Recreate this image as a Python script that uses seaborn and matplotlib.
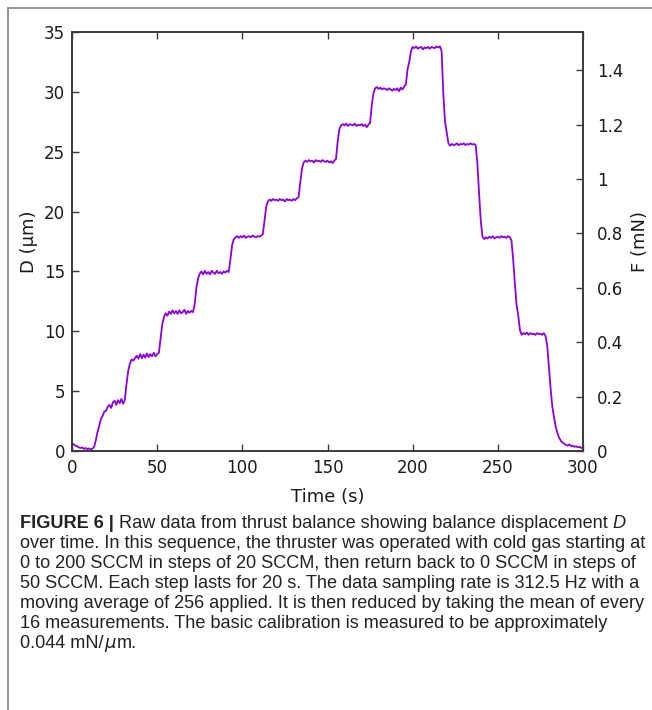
import numpy as np
import pandas as pd
import matplotlib
matplotlib.use("Agg")
import matplotlib.pyplot as plt
import seaborn as sns
from matplotlib.lines import Line2D

# ---------------- data ----------------
time_s = list(range(0, 301))
D_um = [
    0.65, 0.55, 0.45, 0.40, 0.30, 0.25, 0.30, 0.18, 0.25, 0.15,
    0.22, 0.12, 0.20, 0.35, 0.90, 1.60, 2.10, 2.70, 2.95, 3.30,
    3.35, 3.70, 3.85, 3.60, 4.05, 4.20, 3.85, 4.25, 4.00, 4.35,
    3.95, 4.25, 5.60, 6.70, 7.30, 7.65, 7.55, 7.75, 7.95, 7.70,
    8.10, 7.75, 8.05, 7.80, 8.15, 7.85, 8.10, 7.90, 8.20, 7.90,
    8.10, 8.20, 9.40, 10.60, 11.20, 11.50, 11.30, 11.65, 11.45, 11.75,
    11.50, 11.70, 11.45, 11.75, 11.50, 11.60, 11.80, 11.45, 11.70, 11.55,
    11.70, 11.60, 12.20, 13.60, 14.40, 14.80, 15.00, 14.75, 15.05, 14.80,
    14.95, 14.75, 15.05, 14.90, 14.80, 15.05, 14.85, 14.95, 14.80, 15.00,
    14.90, 15.05, 14.95, 16.00, 17.20, 17.70, 17.85, 17.95, 17.80, 17.95,
    17.85, 18.00, 17.80, 17.90, 17.95, 17.85, 18.00, 17.90, 17.85, 17.95,
    17.90, 18.00, 18.10, 19.20, 20.40, 20.85, 21.00, 20.90, 21.05, 20.95,
    21.00, 20.90, 21.05, 20.95, 21.00, 20.85, 21.05, 20.95, 21.00, 20.90,
    21.05, 20.95, 21.10, 21.20, 22.40, 23.60, 24.10, 24.25, 24.15, 24.30,
    24.20, 24.25, 24.10, 24.30, 24.20, 24.25, 24.15, 24.30, 24.20, 24.15,
    24.25, 24.10, 24.20, 24.05, 24.25, 24.40, 25.90, 26.90, 27.20, 27.30,
    27.20, 27.35, 27.15, 27.30, 27.25, 27.20, 27.35, 27.15, 27.25, 27.20,
    27.30, 27.15, 27.25, 27.05, 27.25, 27.40, 28.90, 29.90, 30.30, 30.40,
    30.25, 30.35, 30.20, 30.30, 30.25, 30.15, 30.30, 30.20, 30.10, 30.25,
    30.15, 30.30, 30.05, 30.35, 30.20, 30.45, 30.60, 31.90, 32.50, 33.40,
    33.75, 33.65, 33.80, 33.60, 33.70, 33.75, 33.55, 33.70, 33.65, 33.75,
    33.60, 33.75, 33.70, 33.65, 33.80, 33.70, 33.80, 33.40, 29.80, 27.50,
    26.60, 25.70, 25.50, 25.65, 25.55, 25.60, 25.70, 25.55, 25.65, 25.60,
    25.70, 25.55, 25.65, 25.60, 25.70, 25.60, 25.65, 25.55, 24.00, 21.50,
    19.20, 17.90, 17.70, 17.85, 17.75, 17.90, 17.80, 17.95, 17.75, 17.85,
    17.90, 17.80, 17.95, 17.85, 17.90, 17.80, 17.95, 17.85, 17.60, 16.00,
    14.00, 12.20, 11.30, 10.10, 9.70, 9.85, 9.75, 9.90, 9.70, 9.85,
    9.75, 9.80, 9.70, 9.85, 9.75, 9.80, 9.70, 9.85, 9.60, 8.80,
    7.00, 5.20, 3.70, 2.80, 2.00, 1.50, 1.10, 0.85, 0.70, 0.60,
    0.50, 0.45, 0.55, 0.40, 0.45, 0.35, 0.40, 0.30, 0.35, 0.25, 0.30,
]
calibration_mN_per_um = 0.044
x_ticks = [0, 50, 100, 150, 200, 250, 300]
d_ticks = [0, 5, 10, 15, 20, 25, 30, 35]
f_ticks = [0, 0.2, 0.4, 0.6, 0.8, 1.0, 1.2, 1.4]
f_ticklabels = ["0", "0.2", "0.4", "0.6", "0.8", "1", "1.2", "1.4"]

caption_lines = [
    "over time. In this sequence, the thruster was operated with cold gas starting at",
    "0 to 200 SCCM in steps of 20 SCCM, then return back to 0 SCCM in steps of",
    "50 SCCM. Each step lasts for 20 s. The data sampling rate is 312.5 Hz with a",
    "moving average of 256 applied. It is then reduced by taking the mean of every",
    "16 measurements. The basic calibration is measured to be approximately",
]

# ---------------- style ----------------
sns.set_style("white")
plt.rcParams["font.family"] = ["DejaVu Sans"]
W, H = 652, 710
fig = plt.figure(figsize=(W / 100, H / 100), dpi=100)
fig.patch.set_facecolor("white")

ax = fig.add_axes([72 / W, 1 - 451 / H, 511 / W, 419 / H])
df = pd.DataFrame({"Time": time_s, "D": D_um})
sns.lineplot(data=df, x="Time", y="D", ax=ax, color="#8C00DC",
             linewidth=1.3, estimator=None)

spine_c = "#3a3a3a"
ax.set_xlim(0, 300)
ax.set_ylim(0, 35)
ax.set_xticks(x_ticks)
ax.set_yticks(d_ticks)
for s in ax.spines.values():
    s.set_visible(True)
    s.set_color(spine_c)
    s.set_linewidth(1.2)
ax.tick_params(axis="x", direction="in", length=5, width=1, color=spine_c,
               top=True, bottom=True, labelsize=12, pad=6, labelcolor="#1a1a1a")
ax.tick_params(axis="y", direction="in", length=5, width=1, color=spine_c,
               left=True, right=False, labelsize=12, pad=5, labelcolor="#1a1a1a")
ax.set_xlabel("Time (s)", fontsize=13, color="#1a1a1a")
ax.xaxis.set_label_coords(0.5, -0.088)
ax.set_ylabel("D (µm)", fontsize=13, color="#1a1a1a")
ax.yaxis.set_label_coords(-0.067, 0.5)

ax2 = ax.twinx()
ax2.set_ylim(0, 35 * calibration_mN_per_um)
ax2.set_yticks(f_ticks)
ax2.set_yticklabels(f_ticklabels)
for s in ax2.spines.values():
    s.set_color(spine_c)
    s.set_linewidth(1.2)
ax2.tick_params(axis="y", direction="in", length=5, width=1, color=spine_c,
                labelsize=12, pad=10, labelcolor="#1a1a1a")
ax2.set_ylabel("F (mN)", fontsize=13, color="#1a1a1a")
ax2.yaxis.set_label_coords(1.094, 0.5)

# ---------------- frame ----------------
frame_c = "#8a8a8a"
fig.add_artist(Line2D([8 / W, 8 / W], [1 - 8 / H, 0], transform=fig.transFigure,
                      color=frame_c, linewidth=1.3))
fig.add_artist(Line2D([8 / W, 1], [1 - 8 / H, 1 - 8 / H], transform=fig.transFigure,
                      color=frame_c, linewidth=1.3))

# ---------------- caption ----------------
cap_family = ["Liberation Sans Narrow", "Liberation Sans", "DejaVu Sans"]
cap_color = "#222222"
fig.canvas.draw()
renderer = fig.canvas.get_renderer()

probe = fig.text(0, 0, caption_lines[0], fontsize=10, family=cap_family)
w10 = probe.get_window_extent(renderer).width
probe.remove()
cap_fs = 10 * 627 / w10

x0 = 20
def px(x, y):
    return x / W, 1 - y / H

def chain(parts, ybase):
    x = x0
    for txt, kw in parts:
        t = fig.text(*px(x, ybase), txt, fontsize=cap_fs, family=cap_family,
                     color=cap_color, va="baseline", ha="left", **kw)
        x += t.get_window_extent(renderer).width
    return x

base0 = 528
chain([("FIGURE 6 |", {"fontweight": "bold"}),
       (" Raw data from thrust balance showing balance displacement ", {}),
       ("D", {"style": "italic"})], base0)
for i, line in enumerate(caption_lines):
    chain([(line, {})], base0 + 20 * (i + 1))
chain([("0.044 mN/", {}), ("$\\mu$", {}), ("m.", {})], base0 + 20 * 6)

fig.savefig("out.png", dpi=100, facecolor="white")
